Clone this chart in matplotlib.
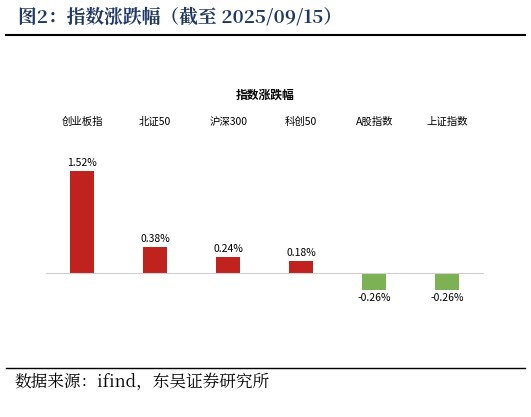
import matplotlib.pyplot as plt
from matplotlib.lines import Line2D

plt.rcParams['font.family'] = ['Noto Sans CJK SC', 'DejaVu Sans']
serif = ['Noto Serif CJK SC', 'Noto Sans CJK SC', 'DejaVu Serif']

categories = ['创业板指', '北证50', '沪深300', '科创50', 'A股指数', '上证指数']
changes = [1.52, 0.38, 0.24, 0.18, -0.26, -0.26]

fig = plt.figure(figsize=(5.31, 4.17), dpi=100)
ax = fig.add_axes([0.086, 0.281, 0.825, 0.408])

colors = ['#c0221e' if v >= 0 else '#7cb254' for v in changes]
x = range(len(categories))
ax.bar(x, changes, width=0.33, color=colors)
ax.axhline(0, color='#d0d0d0', linewidth=0.8)
ax.set_xlim(-0.5, len(categories) - 0.5)
ax.set_ylim(-0.40, 2.13)
ax.axis('off')

for i, v in enumerate(changes):
    off = 0.12 if v >= 0 else -0.12
    ax.text(i, v + off, f'{v:.2f}%', ha='center', va='center', fontsize=7.5)
    fig.text(0.086 + 0.825 * (i + 0.5) / len(categories), 0.707, categories[i],
             ha='center', va='center', fontsize=7.5)

fig.text(0.5, 0.772, '指数涨跌幅', ha='center', va='center', fontsize=8.5, fontweight='bold')

fig.text(0.034, 0.958, '图2：指数涨跌幅（截至 2025/09/15）', ha='left', va='center',
         fontsize=13.5, fontweight='bold', color='#1f3864', family=serif)
fig.add_artist(Line2D([0.011, 0.989], [0.916, 0.916], color='black', linewidth=1.5))
fig.add_artist(Line2D([0.011, 0.989], [0.118, 0.118], color='black', linewidth=1.0))
fig.text(0.028, 0.084, '数据来源：ifind，东吴证券研究所', ha='left', va='center',
         fontsize=12, family=serif)

fig.savefig('out.png', dpi=100)
